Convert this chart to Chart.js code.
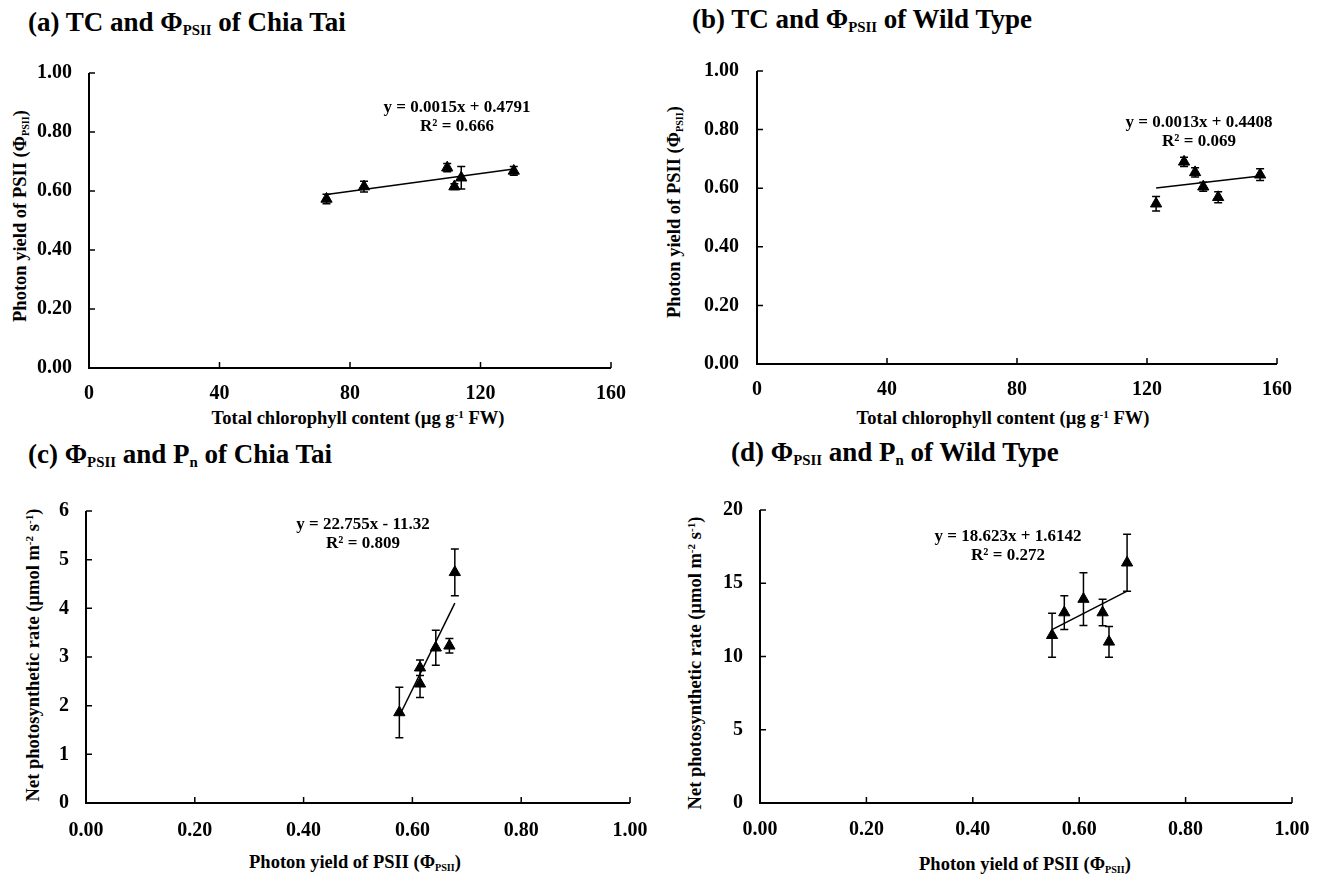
<!DOCTYPE html>
<html>
<head>
<meta charset="utf-8">
<script src="https://cdn.jsdelivr.net/npm/chart.js@4.4.1/dist/chart.umd.min.js"></script>
<style>
  body { margin: 0; background: #fff; width: 1320px; height: 875px; position: relative; overflow: hidden;
         font-family: "Liberation Serif", "Times New Roman", serif; font-weight: bold; color: #000; }
  canvas { position: absolute; }
  .txt { position: absolute; white-space: nowrap; line-height: 1; }
  .title { font-size: 27px; }
  .axis { font-size: 18.5px; transform: translate(-50%, -50%); }
  .yaxis { transform: translate(-50%, -50%) rotate(-90deg); }
  .eq { font-size: 17px; transform: translate(-50%, -50%); }
  .sub { font-size: 0.55em; position: relative; top: 0.3em; }
  .sup { font-size: 0.6em; position: relative; top: -0.55em; }
</style>
</head>
<body>

<div class="txt title" style="left:28px;top:9px">(a) TC and Φ<span class="sub">PSII</span> of Chia Tai</div>
<div class="txt title" style="left:692px;top:6px">(b) TC and Φ<span class="sub">PSII</span> of Wild Type</div>
<div class="txt title" style="left:28px;top:441px">(c) Φ<span class="sub">PSII</span> and P<span class="sub">n</span> of Chia Tai</div>
<div class="txt title" style="left:731px;top:439px">(d) Φ<span class="sub">PSII</span> and P<span class="sub">n</span> of Wild Type</div>

<div class="txt axis yaxis" style="left:20px;top:216px">Photon yield of PSII (Φ<span class="sub">PSII</span>)</div>
<div class="txt axis yaxis" style="left:674px;top:212px">Photon yield of PSII (Φ<span class="sub">PSII</span>)</div>
<div class="txt axis yaxis" style="left:33px;top:655px">Net photosynthetic rate (µmol m<span class="sup">-2</span> s<span class="sup">-1</span>)</div>
<div class="txt axis yaxis" style="left:695px;top:663px">Net photosynthetic rate (µmol m<span class="sup">-2</span> s<span class="sup">-1</span>)</div>

<div class="txt axis" style="left:358px;top:418px">Total chlorophyll content (µg g<span class="sup">-1</span> FW)</div>
<div class="txt axis" style="left:1003px;top:418px">Total chlorophyll content (µg g<span class="sup">-1</span> FW)</div>
<div class="txt axis" style="left:355px;top:862px">Photon yield of PSII (Φ<span class="sub">PSII</span>)</div>
<div class="txt axis" style="left:1025px;top:864px">Photon yield of PSII (Φ<span class="sub">PSII</span>)</div>

<script>
// (a) Chia Tai: total chlorophyll vs PSII yield
const tcChiaTai = [72.8, 84.3, 109.8, 112.0, 114.1, 130.2];
const phiChiaTai = [0.573, 0.615, 0.679, 0.615, 0.645, 0.668];
const phiErrChiaTai = [0.016, 0.018, 0.014, 0.010, 0.038, 0.015];

// (b) Wild type: total chlorophyll vs PSII yield
const tcWild = [122.8, 131.4, 134.8, 137.3, 141.9, 154.8];
const phiWild = [0.547, 0.690, 0.654, 0.605, 0.569, 0.646];
const phiErrWild = [0.025, 0.016, 0.016, 0.015, 0.019, 0.020];

// (c) Chia Tai: PSII yield vs net photosynthesis
const phiPnChiaTai = [0.576, 0.614, 0.614, 0.643, 0.668, 0.678];
const pnChiaTai = [1.86, 2.45, 2.78, 3.19, 3.23, 4.74];
const pnErrChiaTai = [0.52, 0.28, 0.16, 0.36, 0.15, 0.48];

// (d) Wild type: PSII yield vs net photosynthesis
const phiPnWild = [0.549, 0.572, 0.608, 0.644, 0.656, 0.690];
const pnWild = [11.45, 13.0, 13.92, 13.0, 11.0, 16.4];
const pnErrWild = [1.5, 1.15, 1.8, 0.9, 1.05, 1.95];

// linear trendlines (a, b, c, d)
const slopes = [0.0015, 0.0013, 22.755, 18.623];
const intercepts = [0.4791, 0.4408, -11.32, 1.6142];
const rSquared = [0.666, 0.069, 0.809, 0.272];

const tickFont = { family: '"Liberation Serif", "Times New Roman", serif', size: 20, weight: 'bold' };

const panels = [
  { rect: { l: 89, t: 64, r: 611, b: 368 }, xs: tcChiaTai, ys: phiChiaTai, err: phiErrChiaTai,
    x: [0, 160, 40, 0], y: [0, 1, 0.2, 2], yPad: 17, xPad: 14, eq: [457, 106] },
  { rect: { l: 757, t: 61, r: 1277, b: 364 }, xs: tcWild, ys: phiWild, err: phiErrWild,
    x: [0, 160, 40, 0], y: [0, 1, 0.2, 2], yPad: 18, xPad: 14, eq: [1199, 121] },
  { rect: { l: 86, t: 502, r: 630, b: 803 }, xs: phiPnChiaTai, ys: pnChiaTai, err: pnErrChiaTai,
    x: [0, 1, 0.2, 2], y: [0, 6, 1, 0], yPad: 17, xPad: 16, eq: [363, 523] },
  { rect: { l: 760, t: 501, r: 1292, b: 803 }, xs: phiPnWild, ys: pnWild, err: pnErrWild,
    x: [0, 1, 0.2, 2], y: [0, 20, 5, 0], yPad: 17, xPad: 15, eq: [1008, 535] }
];

// axis lines with inward ticks, plus error bars
const excelAxes = {
  id: 'excelAxes',
  afterDatasetsDraw(chart) {
    const { ctx, chartArea: a, scales: { x, y } } = chart;
    const ds = chart.data.datasets[0];
    ctx.save();
    ctx.strokeStyle = '#000';
    ctx.lineWidth = 1.5;
    ctx.beginPath();
    ds.data.forEach((pt, i) => {
      const px = x.getPixelForValue(pt.x);
      const top = y.getPixelForValue(pt.y + ds.errors[i]);
      const bot = y.getPixelForValue(pt.y - ds.errors[i]);
      ctx.moveTo(px, top); ctx.lineTo(px, bot);
      ctx.moveTo(px - 4, top); ctx.lineTo(px + 4, top);
      ctx.moveTo(px - 4, bot); ctx.lineTo(px + 4, bot);
    });
    ctx.stroke();

    ctx.lineWidth = 2;
    ctx.beginPath();
    ctx.moveTo(a.left, a.top);
    ctx.lineTo(a.left, a.bottom);
    ctx.lineTo(a.right, a.bottom);
    ctx.stroke();

    ctx.lineWidth = 1.5;
    ctx.beginPath();
    y.ticks.forEach(t => {
      const py = y.getPixelForValue(t.value);
      ctx.moveTo(a.left, py); ctx.lineTo(a.left + 6, py);
    });
    x.ticks.forEach(t => {
      const px = x.getPixelForValue(t.value);
      ctx.moveTo(px, a.bottom); ctx.lineTo(px, a.bottom - 6);
    });
    ctx.stroke();
    ctx.restore();
  }
};

function fmtEq(s, c) {
  return 'y = ' + s + 'x ' + (c < 0 ? '- ' : '+ ') + Math.abs(c);
}

panels.forEach((p, k) => {
  const r = p.rect;
  const cv = document.createElement('canvas');
  cv.width = r.r - r.l + 120;
  cv.height = r.b - r.t + 70;
  cv.style.left = (r.l - 80) + 'px';
  cv.style.top = (r.t - 20) + 'px';
  document.body.appendChild(cv);

  const pts = p.xs.map((v, i) => ({ x: v, y: p.ys[i] }));
  const x0 = Math.min(...p.xs), x1 = Math.max(...p.xs);
  const trend = [x0, x1].map(v => ({ x: v, y: slopes[k] * v + intercepts[k] }));

  new Chart(cv, {
    type: 'scatter',
    data: {
      datasets: [
        { data: pts, errors: p.err, pointStyle: 'triangle', pointRadius: 6.5,
          backgroundColor: '#000', borderColor: '#000', borderWidth: 1 },
        { data: trend, showLine: true, pointRadius: 0, borderColor: '#000', borderWidth: 1.5 }
      ]
    },
    options: {
      responsive: false,
      animation: false,
      layout: { padding: { left: 0, right: 40, top: 20, bottom: 0 } },
      plugins: { legend: { display: false }, tooltip: { enabled: false } },
      scales: {
        x: {
          type: 'linear', min: p.x[0], max: p.x[1],
          border: { display: false },
          grid: { display: false, drawTicks: false },
          ticks: { stepSize: p.x[2], padding: p.xPad, color: '#000', font: tickFont,
                   maxRotation: 0, autoSkip: false, callback: v => Number(v).toFixed(p.x[3]) },
          afterFit(s) { s.height = 50; }
        },
        y: {
          type: 'linear', min: p.y[0], max: p.y[1],
          border: { display: false },
          grid: { display: false, drawTicks: false },
          ticks: { stepSize: p.y[2], padding: p.yPad, color: '#000', font: tickFont,
                   autoSkip: false, callback: v => Number(v).toFixed(p.y[3]) },
          afterFit(s) { s.width = 80; }
        }
      }
    },
    plugins: [excelAxes]
  });

  const eq = document.createElement('div');
  eq.className = 'txt eq';
  eq.style.left = p.eq[0] + 'px';
  eq.style.top = p.eq[1] + 'px';
  eq.textContent = fmtEq(slopes[k], intercepts[k]);
  document.body.appendChild(eq);

  const rr = document.createElement('div');
  rr.className = 'txt eq';
  rr.style.left = p.eq[0] + 'px';
  rr.style.top = (p.eq[1] + 19) + 'px';
  rr.textContent = 'R² = ' + rSquared[k].toFixed(3);
  document.body.appendChild(rr);
});
</script>
</body>
</html>
